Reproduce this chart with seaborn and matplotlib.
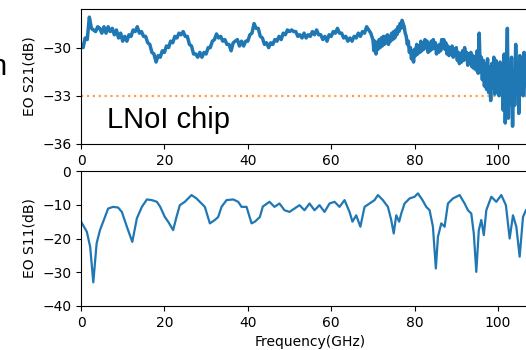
import numpy as np
import pandas as pd
import matplotlib
matplotlib.use("Agg")
import matplotlib.pyplot as plt
import seaborn as sns

# EO S21, 0 - 69.5 GHz sampled every 0.5 GHz
s21_a = [-29.8, -30.0, -29.4, -29.5, -28.1, -28.8, -28.9, -29.0, -28.7, -28.8,
         -29.1, -28.7, -29.1, -28.7, -29.0, -28.8, -29.2, -28.9, -29.4, -29.1,
         -29.6, -29.3, -29.6, -29.2, -29.3, -28.9, -29.0, -28.7, -29.1, -29.0,
         -29.3, -29.3, -29.7, -29.8, -30.3, -30.4, -30.9, -30.5, -30.6, -30.2,
         -30.3, -29.9, -30.0, -29.6, -29.7, -29.3, -29.4, -29.1, -29.2, -29.0,
         -29.3, -29.3, -29.8, -29.9, -30.4, -30.4, -30.6, -30.3, -30.6, -30.3,
         -30.4, -30.0, -30.0, -29.6, -29.5, -29.15, -29.4, -29.3, -29.6, -29.5,
         -29.8, -29.8, -30.2, -29.7, -29.6, -29.5, -29.9, -29.6, -29.9, -29.6,
         -29.6, -29.2, -29.1, -28.5, -28.8, -28.8, -29.3, -29.4, -29.8, -29.7,
         -30.0, -29.7, -29.8, -29.5, -29.6, -29.3, -29.5, -29.1, -29.2, -28.9,
         -29.0, -28.9, -29.0, -29.0, -29.3, -29.2, -29.4, -29.1, -29.4, -29.2,
         -29.3, -29.0, -29.2, -28.9, -29.2, -29.2, -29.5, -29.3, -29.6, -29.2,
         -29.3, -29.0, -29.1, -28.8, -29.1, -29.1, -29.4, -29.3, -29.6, -29.4,
         -29.6, -29.3, -29.4, -29.1, -29.3, -29.0, -29.1, -28.7, -28.9, -29.1]

# EO S21, 70 - 108 GHz sampled every 0.25 GHz (noisy part)
s21_b = [-29.5, -30.2, -29.6, -30.4, -29.8, -30.1, -29.5, -30.0, -29.4, -29.9,
         -29.3, -29.8, -29.3, -29.7, -29.2, -29.8, -29.3, -29.6, -29.1, -29.5,
         -29.0, -29.4, -28.9, -29.2, -28.7, -29.0, -28.5, -28.8, -28.3, -28.5,
         -28.7, -29.1, -29.3, -29.8, -29.6, -30.3, -30.0, -30.7, -30.2, -30.9,
         -30.1, -30.5, -29.8, -30.4, -29.9, -30.3, -29.6, -30.2, -29.7, -30.1,
         -29.5, -30.0, -29.6, -30.3, -29.8, -30.2, -29.6, -30.1, -29.5, -30.0,
         -29.7, -30.4, -29.9, -30.3, -29.8, -30.2, -29.5, -30.0, -29.5, -30.1,
         -29.7, -30.4, -29.9, -30.5, -30.0, -30.4, -29.9, -30.6, -30.1, -30.5,
         -30.0, -30.8, -30.3, -31.0, -30.4, -30.9, -30.2, -30.8, -30.0, -30.7,
         -30.3, -31.1, -30.4, -31.0, -30.3, -31.2, -30.5, -31.3, -30.6, -31.4,
         -30.2, -31.6, -29.1, -31.5, -30.6, -32.0, -30.8, -32.4, -31.0, -32.6,
         -30.7, -32.8, -31.2, -33.3, -31.0, -32.5, -30.6, -32.9, -30.8, -32.4,
         -31.4, -33.0, -30.9, -32.8, -31.1, -33.9, -30.4, -34.7, -31.6, -28.8,
         -34.4, -31.2, -33.5, -30.6, -34.9, -31.4, -33.6, -29.8, -32.9, -31.0,
         -34.1, -30.5, -32.6, -30.9, -33.0, -30.3, -32.2, -30.8, -33.4, -30.6,
         -32.5, -31.0, -32.0]

ref_level = -33

# EO S11
s11_freq = [0, 0.2, 1.4, 2.2, 2.95, 3.75, 4.55, 5.75, 6.5, 7.7, 8.9, 9.8, 11,
            12.3, 13.4, 14.6, 15.8, 17, 18.2, 19, 20.1, 20.9, 22.1, 22.9, 23.7,
            24.9, 26.5, 27.7, 28.9, 29.7, 30.9, 32.1, 32.9, 33.7, 34.9, 36.5,
            37.7, 38.5, 39.7, 40.9, 41.7, 42.9, 43.6, 45.2, 46.4, 47.6, 48.8,
            50, 51.2, 52.4, 53.6, 54.8, 56, 57.2, 58.4, 59.6, 60.8, 62, 63.2,
            64.4, 65.1, 66, 67, 68, 69.2, 70.4, 71.2, 72.4, 73.6, 74.4, 75,
            75.6, 76.3, 76.8, 77.6, 78.8, 80, 80.8, 81.9, 82.8, 83.6, 84.4,
            85.1, 85.6, 86.4, 87.2, 88, 89.2, 90.8, 92, 92.8, 93.6, 94.2, 94.8,
            95.4, 96, 96.6, 97.2, 98.4, 99.6, 100.8, 101.9, 102.8, 103.6,
            104.4, 105.2, 106, 106.7, 108]
s11_db = [-15.0, -15.4, -18, -22.5, -33, -21.4, -17.5, -13.6, -11.1, -10.6,
          -10.8, -12.1, -16.5, -21, -14, -10.6, -8.4, -8.6, -9.1, -10.6, -13.6,
          -15, -17.5, -13.6, -10.1, -9.1, -7.1, -8.1, -9.6, -10.6, -15.5, -14.5,
          -13.6, -10.6, -8.6, -8.4, -9.1, -10.6, -10.6, -15.5, -15, -13.6,
          -10.5, -9.1, -10.6, -9.6, -11.6, -12.1, -11.1, -10.1, -11.6, -9.6,
          -11.6, -10.1, -12.1, -9.6, -9.1, -10.6, -8.6, -12.1, -15, -13.1,
          -16.5, -10.6, -9.6, -8.6, -7.1, -8.6, -10.6, -14.5, -18.5, -13.1,
          -15, -12.6, -9.6, -8.1, -7.6, -6.6, -8.6, -10.6, -11.6, -16.5, -28.9,
          -19.5, -15.5, -16.5, -9.6, -8.1, -7.1, -9.6, -11.6, -12.6, -18.5,
          -29.9, -17.5, -14.5, -19, -11.6, -7.6, -9.1, -7.1, -10.1, -20, -13.1,
          -16.5, -25.4, -13.6, -11.6, -10]

freq_a = 0.5 * np.arange(len(s21_a))
freq_b = 70 + 0.25 * np.arange(len(s21_b))
s21 = pd.DataFrame({"f": np.concatenate([freq_a, freq_b]),
                    "db": s21_a + s21_b})
s11 = pd.DataFrame({"f": s11_freq, "db": s11_db})

fig = plt.figure(figsize=(5.26, 3.5), dpi=100)
ax1 = fig.add_axes([0.154, 0.589, 0.872, 0.385])
ax2 = fig.add_axes([0.154, 0.126, 0.872, 0.385])

ax1.axhline(ref_level, color="C1", ls=":", lw=1.6, alpha=0.75)
sns.lineplot(data=s21, x="f", y="db", ax=ax1, color="C0", lw=2.5)
ax1.set_xlim(0, 110)
ax1.set_ylim(-36, -27.6)
ax1.set_yticks([-30, -33, -36])
ax1.set_xticks([0, 20, 40, 60, 80, 100])
ax1.set_xlabel("")
ax1.set_ylabel("EO S21(dB)")

sns.lineplot(data=s11, x="f", y="db", ax=ax2, color="C0", lw=1.6)
ax2.set_xlim(0, 110)
ax2.set_ylim(-40, 0)
ax2.set_yticks([0, -10, -20, -30, -40])
ax2.set_xticks([0, 20, 40, 60, 80, 100])
ax2.set_xlabel("Frequency(GHz)")
ax2.set_ylabel("EO S11(dB)")

fig.text(0.203, 0.634, "LNoI chip", fontsize=21, family="Liberation Sans",
         va="baseline")
# partly visible text at the left edge of the cropped figure
fig.text(0.012, 0.786, "n", fontsize=21, family="Liberation Sans",
         ha="right", va="baseline")

fig.savefig("out.png", dpi=100)
